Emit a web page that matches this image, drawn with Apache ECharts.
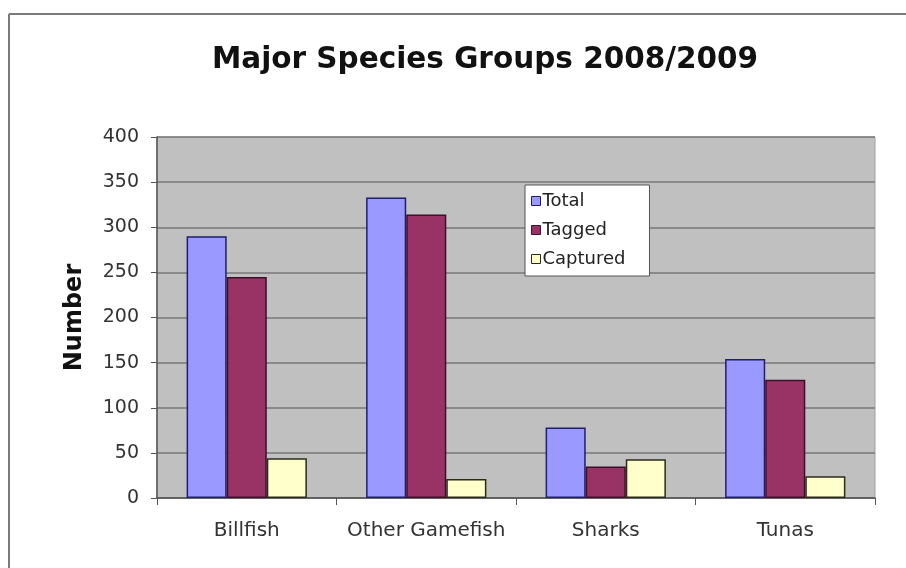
<!DOCTYPE html>
<html>
<head>
<meta charset="utf-8">
<script src="https://cdn.jsdelivr.net/npm/echarts@6/dist/echarts.min.js"></script>
<style>
  html, body { margin: 0; padding: 0; background: #fff; }
  #chart { width: 906px; height: 568px; }
</style>
</head>
<body>
<div id="chart"></div>
<script>
// Fish counts by species group, season 2008/2009
const categories = ['Billfish', 'Other Gamefish', 'Sharks', 'Tunas'];
const totalValues = [290, 333, 78, 154];
const taggedValues = [245, 314, 35, 131];
const capturedValues = [44, 21, 43, 24];
const yTicks = { min: 0, max: 400, interval: 50 };

const chart = echarts.init(document.getElementById('chart'));

const barBase = { type: 'bar', barGap: '0%', barCategoryGap: '33%' };

chart.setOption({
  animation: false,
  backgroundColor: '#ffffff',
  textStyle: { fontFamily: 'DejaVu Sans' },
  title: {
    text: 'Major Species Groups 2008/2009',
    left: 480,
    textAlign: 'center',
    top: 40,
    textStyle: { fontFamily: 'DejaVu Sans', fontWeight: 'bold', fontSize: 29.5, color: '#111' }
  },
  graphic: [
    // frame lines around the chart sheet
    { type: 'line', shape: { x1: 9, y1: 14, x2: 906, y2: 14 }, style: { stroke: '#7a7a7a', lineWidth: 2 }, z: 10 },
    { type: 'line', shape: { x1: 9, y1: 14, x2: 9, y2: 568 }, style: { stroke: '#7a7a7a', lineWidth: 2 }, z: 10 }
  ],
  legend: {
    orient: 'vertical',
    left: 525,
    top: 185,
    padding: [7, 24, 8, 6],
    itemGap: 11,
    itemWidth: 9,
    itemHeight: 9,
    itemStyle: { borderWidth: 1 },
    backgroundColor: '#ffffff',
    borderColor: '#555',
    borderWidth: 1,
    textStyle: { fontFamily: 'DejaVu Sans', fontSize: 18, color: '#222', padding: [0, 0, 0, -3] },
    data: [
      { name: 'Total', icon: 'rect' },
      { name: 'Tagged', icon: 'rect' },
      { name: 'Captured', icon: 'rect' }
    ]
  },
  grid: {
    left: 157, right: 31, top: 137, bottom: 70,
    show: true,
    backgroundColor: '#c0c0c0',
    borderColor: '#a0a0a0',
    borderWidth: 1
  },
  xAxis: {
    type: 'category',
    data: categories,
    axisLine: { lineStyle: { color: '#555', width: 1.5 } },
    axisTick: { show: true, length: 7, lineStyle: { color: '#555' } },
    axisLabel: { interval: 0, fontFamily: 'DejaVu Sans', fontSize: 20, color: '#333', margin: 23 }
  },
  yAxis: {
    type: 'value',
    min: yTicks.min,
    max: yTicks.max,
    interval: yTicks.interval,
    name: 'Number',
    nameLocation: 'middle',
    nameGap: 70,
    nameTextStyle: { fontFamily: 'DejaVu Sans', fontWeight: 'bold', fontSize: 24, color: '#111' },
    axisLine: { show: true, lineStyle: { color: '#555', width: 1.5 } },
    axisTick: { show: true, length: 6, lineStyle: { color: '#555' } },
    axisLabel: { fontFamily: 'DejaVu Sans', fontSize: 19, color: '#333', margin: 18 },
    splitLine: { lineStyle: { color: '#787878', width: 1.5 } }
  },
  series: [
    Object.assign({}, barBase, {
      name: 'Total', data: totalValues,
      itemStyle: { color: '#9999ff', borderColor: '#1f1f6b', borderWidth: 1.5 }
    }),
    Object.assign({}, barBase, {
      name: 'Tagged', data: taggedValues,
      itemStyle: { color: '#993366', borderColor: '#3d1028', borderWidth: 1.5 }
    }),
    Object.assign({}, barBase, {
      name: 'Captured', data: capturedValues,
      itemStyle: { color: '#ffffcc', borderColor: '#2b2b1a', borderWidth: 1.5 }
    })
  ]
});
</script>
</body>
</html>
